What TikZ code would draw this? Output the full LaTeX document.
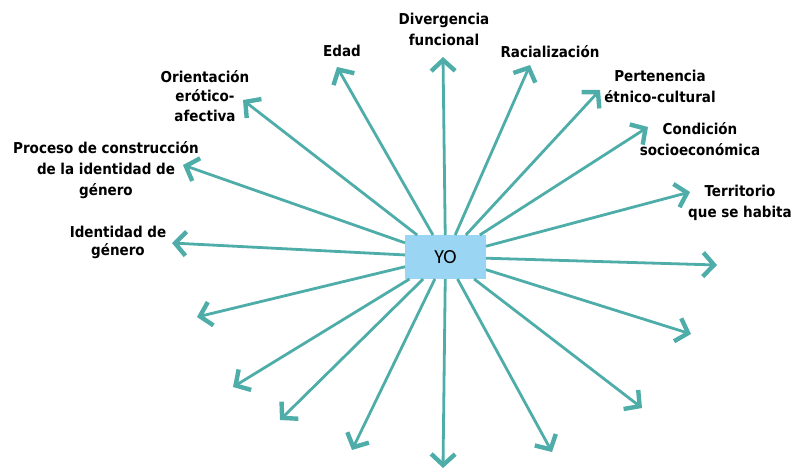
\documentclass[tikz,border=0pt]{standalone}
\usepackage{fontspec}
\setmainfont{DejaVu Sans Condensed}
\newfontfamily\yofont{Carlito}
\usetikzlibrary{arrows.meta}
\definecolor{teal1}{HTML}{4EADA8}
\definecolor{boxblue}{HTML}{9AD6F3}
\tikzset{
  conn/.style={draw=teal1, line width=2.8pt,
    -{Straight Barb[length=11pt,width=24pt,line width=1.6pt 1]}},
  lbl/.style={font=\bfseries\fontsize{15}{20.5}\selectfont, align=center, anchor=base, inner sep=0pt, text=black},
  yobox/.style={fill=boxblue, minimum width=81pt, minimum height=44pt, outer sep=0pt, inner sep=0pt, font=\yofont\fontsize{20}{22}\selectfont}
}
\begin{document}
\begin{tikzpicture}[x=1pt,y=-1pt]
\useasboundingbox (0,0) rectangle (795,472);
\node[yobox] (yo) at (445.5,257) {YO};
% tips
\coordinate (t1) at (443,57);
\coordinate (t2) at (530,65);
\coordinate (t3) at (600,90);
\coordinate (t4) at (648,127);
\coordinate (t5) at (690,192);
\coordinate (t6) at (717,265);
\coordinate (t7) at (691,334);
\coordinate (t8) at (642,408);
\coordinate (t9) at (552,452);
\coordinate (t10) at (443,468);
\coordinate (t11) at (352,450);
\coordinate (t12) at (280,420);
\coordinate (t13) at (233,387);
\coordinate (t14) at (197,317);
\coordinate (t15) at (172,243);
\coordinate (t16) at (183,165);
\coordinate (t17) at (243,100);
\coordinate (t18) at (337,67);
\foreach \i in {1,...,18} { \draw[conn] (yo) -- (t\i); }
% labels (anchor = baseline of last line)
\node[lbl] (edad) at (342,56) {Edad};
\node[lbl] (div) at (444,45) {Divergencia\\funcional};
\node[lbl] (rac) at (550,57) {Racialización};
\node[lbl] (per) at (660,102) {Pertenencia\\étnico-cultural};
\node[lbl] (cond) at (700,155) {Condición\\socioeconómica};
\node[lbl] (terr) at (740,217) {Territorio\\que se habita};
\node[lbl, font=\bfseries\fontsize{15}{19.5}\selectfont] (ori) at (205,121) {Orientación\\erótico-\\afectiva};
\node[lbl, font=\bfseries\fontsize{15}{21}\selectfont] (proc) at (106,195) {Proceso de construcción\\de la identidad de\\género};
\node[lbl, font=\bfseries\fontsize{15}{18}\selectfont] (ident) at (118,255) {Identidad de\\género};
\end{tikzpicture}
\end{document}
